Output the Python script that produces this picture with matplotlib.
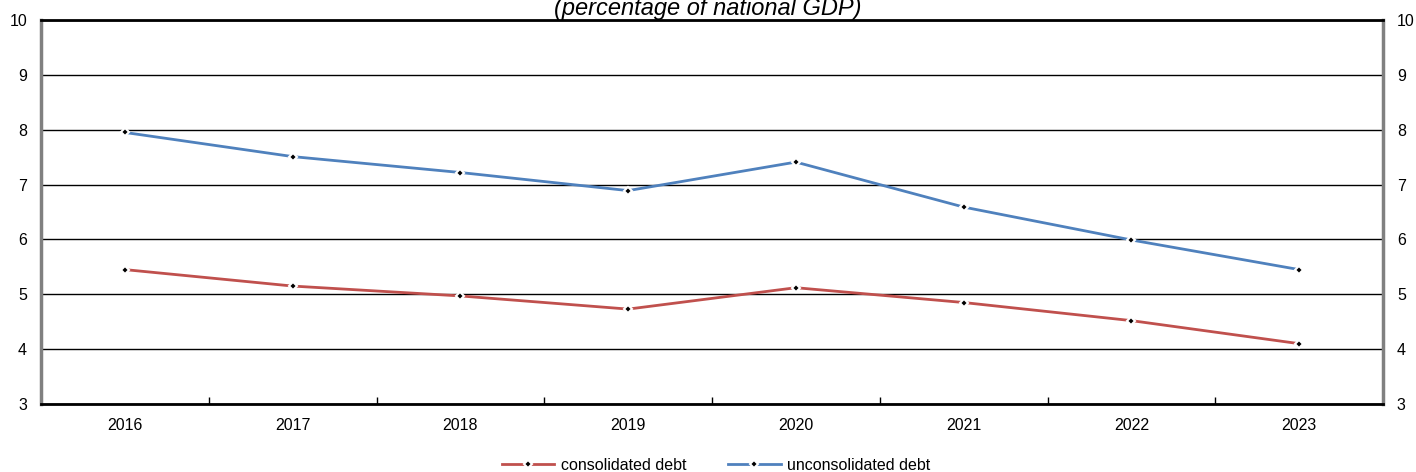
import matplotlib
matplotlib.use("Agg")
import matplotlib.pyplot as plt
from matplotlib.ticker import FixedLocator

plt.rcParams['font.family'] = ['Liberation Sans', 'DejaVu Sans']

years = ["2016", "2017", "2018", "2019", "2020", "2021", "2022", "2023"]
consolidated = [5.45, 5.15, 4.97, 4.73, 5.12, 4.85, 4.52, 4.10]
unconsolidated = [7.95, 7.51, 7.22, 6.89, 7.41, 6.59, 5.99, 5.45]

fig = plt.figure(figsize=(14.16, 4.72), dpi=100)
ax = fig.add_axes([41/1416, 1-404/472, (1383-41)/1416, (404-20)/472])

x = list(range(len(years)))
mk = dict(marker='D', markersize=4.5, markerfacecolor='black', markeredgecolor='white', markeredgewidth=1.5)
ax.plot(x, consolidated, color='#C0504D', lw=2.0, label='consolidated debt', zorder=3, **mk)
ax.plot(x, unconsolidated, color='#4F81BD', lw=2.0, label='unconsolidated debt', zorder=3, **mk)

ax.set_xlim(-0.5, len(years) - 0.5)
ax.set_ylim(3, 10)
ax.set_yticks(range(3, 11))
ax.yaxis.grid(True, color='black', lw=1.0)
ax.set_axisbelow(True)
ax.set_xticks(x)
ax.set_xticklabels(years)
ax.xaxis.set_minor_locator(FixedLocator([i + 0.5 for i in range(len(years) - 1)]))
ax.tick_params(axis='x', which='major', length=0, pad=10, labelsize=11.5)
ax.tick_params(axis='x', which='minor', direction='in', length=5, width=1, color='black')
ax.tick_params(axis='y', which='both', length=0, labelsize=11.5, pad=10,
               labelleft=True, labelright=True)

for side in ['left', 'right']:
    ax.spines[side].set_color('#808080')
    ax.spines[side].set_linewidth(2.5)
ax.spines['top'].set_color('black')
ax.spines['top'].set_linewidth(2)
ax.spines['bottom'].set_color('black')
ax.spines['bottom'].set_linewidth(2)

fig.text(0.5, 1 - 15/472, "(percentage of national GDP)", ha='center', va='baseline',
         fontsize=17, style='italic')

fig.legend(loc='center', bbox_to_anchor=(716/1416, 1 - 465/472), ncol=2, frameon=False,
           fontsize=11.5, handlelength=3.3, columnspacing=2.6, handletextpad=0.4)

fig.savefig('out.png', dpi=100)
